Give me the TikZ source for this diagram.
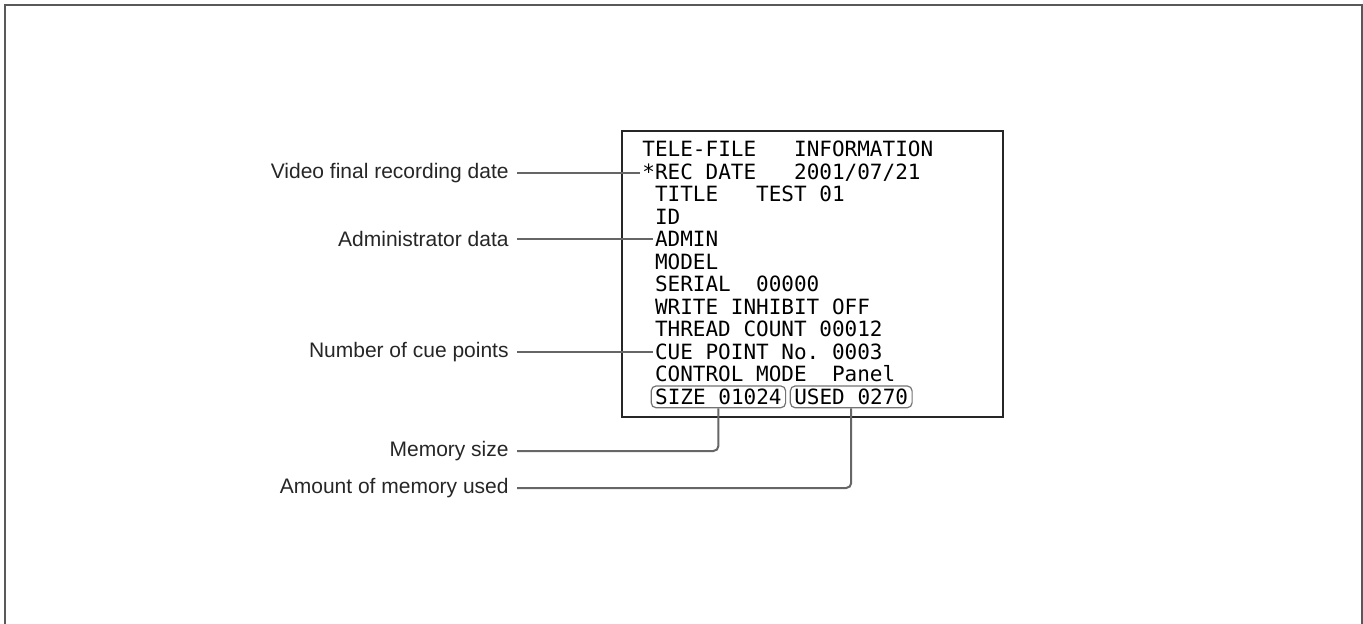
\documentclass[tikz,border=0pt]{standalone}
\usepackage{fontspec}
\setmainfont{Liberation Sans}
\newfontfamily\screenfont{DejaVu Sans Mono}
\usepackage{tikz}
\usetikzlibrary{positioning}

\begin{document}
\begin{tikzpicture}[x=0.5pt, y=-0.5pt,
    scr/.style={anchor=base west, inner xsep=1pt, inner ysep=0pt,
      font=\screenfont\fontsize{10.5}{12}\selectfont},
    memo/.style={scr, draw=black!55, line width=0.6pt, rounded corners=2.5pt,
      inner xsep=2pt, inner ysep=1.5pt},
    lbl/.style={anchor=east, inner xsep=4pt, font=\fontsize{10.5}{12}\selectfont, text=black!85},
    leader/.style={draw=black!60, line width=1pt},
    frame/.style={draw=black!65, line width=1pt},
  ]
    \useasboundingbox (0,0) rectangle (1363,624);
    \draw[frame] (5,624) -- (5,5) -- (1362,5) -- (1362,624);
    \draw[black!85, line width=0.8pt] (622,131) rectangle (1003,417);

    % screen lines
    \node[scr] (head)   at (640,157)      {TELE-FILE~~~INFORMATION};
    \node[scr] (rec)    at (640,179.5)    {*REC~DATE~~~2001/07/21};
    \node[scr] (title)  at (652.6,202)    {TITLE~~~TEST~01};
    \node[scr] (id)     at (652.6,224.5)  {ID};
    \node[scr] (admin)  at (652.6,247)    {ADMIN};
    \node[scr] (model)  at (652.6,269.5)  {MODEL};
    \node[scr] (serial) at (652.6,292)    {SERIAL~~00000};
    \node[scr] (write)  at (652.6,314.5)  {WRITE~INHIBIT~OFF};
    \node[scr] (thread) at (652.6,337)    {THREAD~COUNT~00012};
    \node[scr] (cue)    at (652.6,359.5)  {CUE~POINT~No.~0003};
    \node[scr] (ctrl)   at (652.6,382)    {CONTROL~MODE~~Panel};
    \node[memo] (sizebox) at (650.6,404.5) {SIZE~01024};
    \node[memo] (usedbox) at (789.7,404.5) {USED~0270};

    % labels
    \node[lbl] (lblrec)   at (517,0 |- rec.west)   {Video final recording date};
    \node[lbl] (lbladmin) at (517,0 |- admin.west) {Administrator data};
    \node[lbl] (lblcue)   at (517,0 |- cue.west)   {Number of cue points};
    \node[lbl] (lblsize)  at (517,451)             {Memory size};
    \node[lbl] (lblused)  at (517,488)             {Amount of memory used};

    \draw[leader] (lblrec.east)   -- (rec.west);
    \draw[leader] (lbladmin.east) -- (admin.west);
    \draw[leader] (lblcue.east)   -- (cue.west);
    \draw[leader, rounded corners=2.5pt] (lblsize.east) -| (sizebox.south);
    \draw[leader, rounded corners=2.5pt] (lblused.east) -| (usedbox.south);
\end{tikzpicture}
\end{document}
